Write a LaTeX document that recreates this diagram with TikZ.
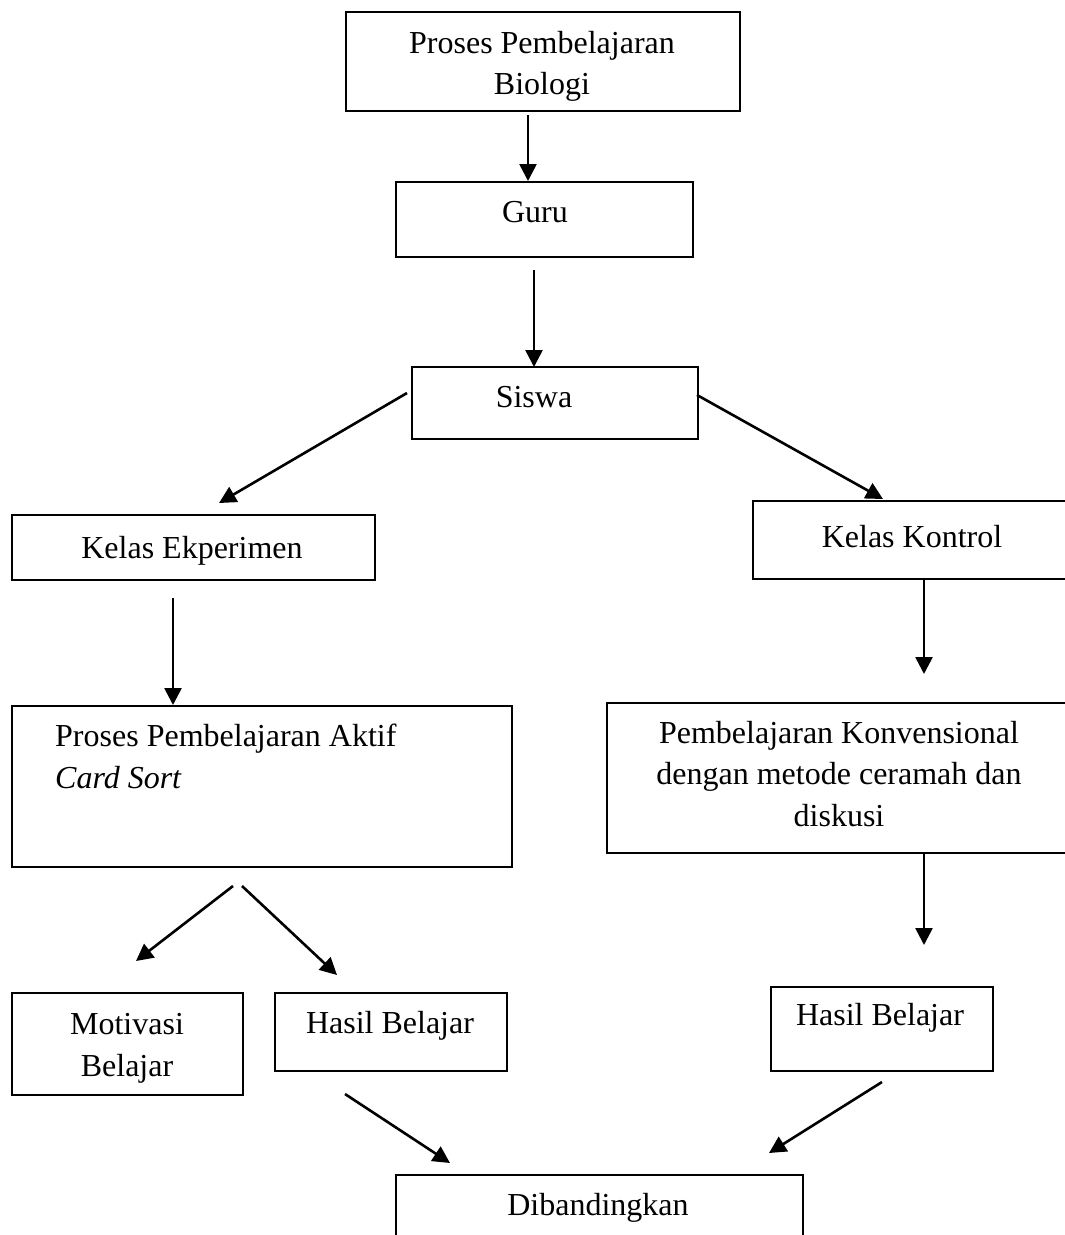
\documentclass[tikz,border=0pt]{standalone}
\usepackage{fontspec}
\setmainfont{Liberation Serif}
\usetikzlibrary{arrows.meta}
\tikzset{
  box/.style={draw, line width=2pt, inner sep=0pt, anchor=north west},
  txt/.style={inner sep=0pt, anchor=base, font=\fontsize{32}{41}\selectfont},
  conn/.style={line width=2.6pt, -{Triangle[length=17pt,width=17pt]}}
}
\newcommand{\bx}[5]{\node[box, minimum width=#4-#2, minimum height=#5-#3] (#1) at (#2,#3) {};}
\begin{document}
\begin{tikzpicture}[x=1pt,y=-1pt]
\useasboundingbox (0,0) rectangle (1065,1235);
\clip (0,0) rectangle (1065,1235);
% boxes
\bx{top}{345}{11}{739}{110}
\bx{guru}{395}{181}{692}{256}
\bx{siswa}{411}{366}{697}{438}
\bx{eksp}{11}{514}{374}{579}
\bx{kontrol}{752}{500}{1080}{578}
\bx{aktif}{11}{705}{511}{866}
\bx{konv}{606}{702}{1080}{852}
\bx{motiv}{11}{992}{242}{1094}
\bx{hasilL}{274}{992}{506}{1070}
\bx{hasilR}{770}{986}{992}{1070}
\bx{banding}{395}{1174}{802}{1260}
% texts
\node[txt] (t1) at (542,53) {Proses Pembelajaran};
\node[txt] (t2) at (542,94) {Biologi};
\node[txt] (t3) at (535,222) {Guru};
\node[txt] (t4) at (534,407) {Siswa};
\node[txt] (t5) at (192,558) {Kelas Ekperimen};
\node[txt] (t6) at (912,547) {Kelas Kontrol};
\node[txt, anchor=base west] (t7) at (55,746) {Proses Pembelajaran Aktif};
\node[txt, anchor=base west] (t8) at (55,788) {\itshape Card Sort};
\node[txt] (t9) at (839,743) {Pembelajaran Konvensional};
\node[txt] (t10) at (839,784) {dengan metode ceramah dan};
\node[txt] (t11) at (839,826) {diskusi};
\node[txt] (t12) at (127,1034) {Motivasi};
\node[txt] (t13) at (127,1076) {Belajar};
\node[txt] (t14) at (390,1033) {Hasil Belajar};
\node[txt] (t15) at (880,1025) {Hasil Belajar};
\node[txt] (t16) at (598,1215) {Dibandingkan};
% connector endpoints
\coordinate (a1s) at (528,115); \coordinate (a1e) at (528,181);
\coordinate (a2s) at (534,270); \coordinate (a2e) at (534,367);
\coordinate (a3s) at (407,393); \coordinate (a3e) at (219,503);
\coordinate (a4s) at (697,395); \coordinate (a4e) at (883,499);
\coordinate (a5s) at (173,598); \coordinate (a5e) at (173,705);
\coordinate (a6s) at (924,580); \coordinate (a6e) at (924,674);
\coordinate (a7s) at (924,852); \coordinate (a7e) at (924,945);
\coordinate (a8s) at (233,886); \coordinate (a8e) at (136,961);
\coordinate (a9s) at (242,886); \coordinate (a9e) at (337,975);
\coordinate (a10s) at (345,1094); \coordinate (a10e) at (450,1163);
\coordinate (a11s) at (882,1082); \coordinate (a11e) at (769,1153);
\foreach \i in {1,...,11} \draw[conn] (a\i s) -- (a\i e);
\end{tikzpicture}
\end{document}
